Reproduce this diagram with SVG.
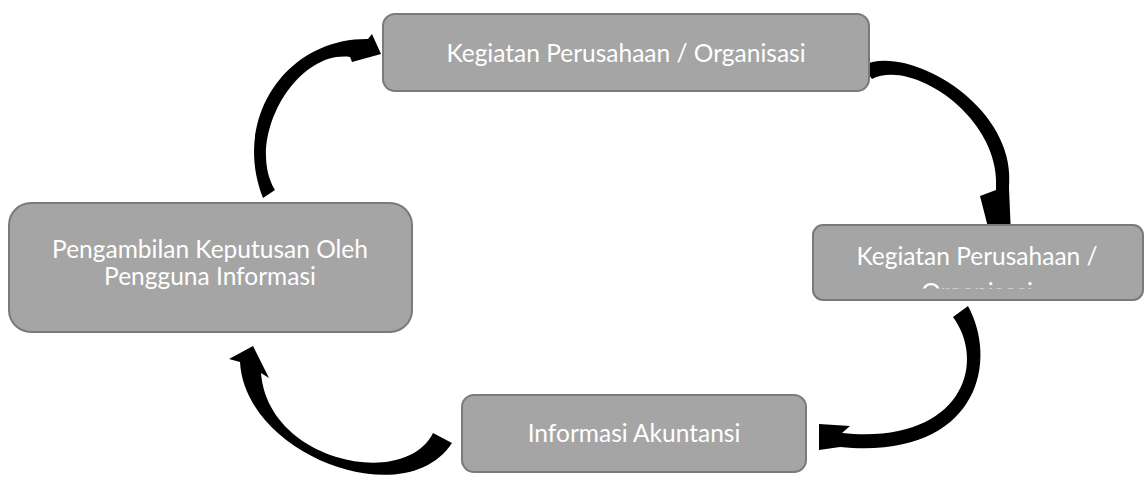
<svg xmlns="http://www.w3.org/2000/svg" width="1144" height="477" viewBox="0 0 1144 477">
<style>
.box{fill:#a5a5a5;stroke:#7a7a7a;stroke-width:2}
.lbl{fill:#ffffff;font-family:Lato,"Open Sans","Liberation Sans",sans-serif;font-size:24.5px;text-anchor:middle}
.arr{fill:#000000;stroke:none}
</style>
<defs>
<clipPath id="clip3"><rect x="813" y="225" width="330" height="63.5"/></clipPath>
</defs>
<rect width="1144" height="477" fill="#ffffff"/>
<g id="connectors">
<path class="arr" d="M862,66 C905,42 1018,105 1009,188 L1011,235 L990,235 L980,196 L996,190 C1002,118 912,58 872,79 Z"/>
<path class="arr" d="M953,317 L968,306 C1000,365 975,460 840,447 L819,450 L819,424 L850,426 L842,433 C960,445 988,365 953,317 Z"/>
<path class="arr" d="M433,433 L452,443 C405,515 245,455 240,362 L229,359 L253,346 L269,378 L261,373 C268,462 405,490 433,433 Z"/>
<path class="arr" d="M263,198 C232,120 285,38 368,39 L372,34 L381,54 L352,62 L350,57 C295,50 245,140 275,190 Z"/>
</g>
<g id="node-top">
<rect class="box" x="383" y="14" width="486" height="77" rx="12"/>
<text class="lbl" x="626" y="62">Kegiatan Perusahaan / Organisasi</text>
</g>
<g id="node-left">
<rect class="box" x="9" y="203" width="403" height="129" rx="22"/>
<text class="lbl" x="210" y="258">Pengambilan Keputusan Oleh</text>
<text class="lbl" x="210" y="285">Pengguna Informasi</text>
</g>
<g id="node-right">
<rect class="box" x="813" y="225" width="330" height="75" rx="10"/>
<g clip-path="url(#clip3)">
<text class="lbl" x="977" y="265">Kegiatan Perusahaan /</text>
<text class="lbl" x="977" y="301">Organisasi</text>
</g>
</g>
<g id="node-bottom">
<rect class="box" x="462" y="395" width="344" height="77" rx="12"/>
<text class="lbl" x="634" y="442">Informasi Akuntansi</text>
</g>
</svg>
